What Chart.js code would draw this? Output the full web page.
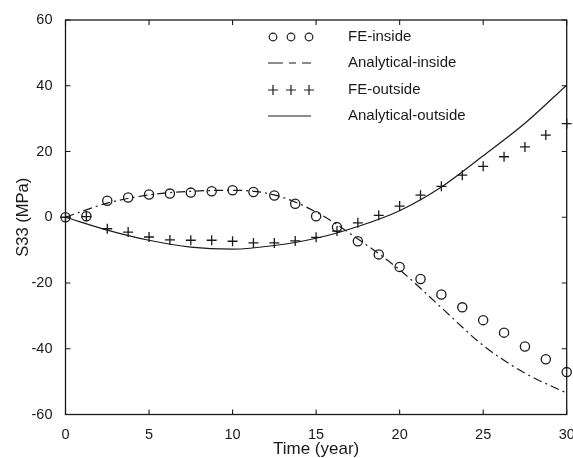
<!DOCTYPE html>
<html>
<head>
<meta charset="utf-8">
<script src="https://cdn.jsdelivr.net/npm/chart.js@4.4.1/dist/chart.umd.min.js"></script>
<style>
  html, body { margin: 0; padding: 0; background: #fff; }
  #wrap { width: 573px; height: 458px; }
</style>
</head>
<body>
<div id="wrap"><canvas id="s33chart"></canvas></div>
<script>
// Data block
const feTime = [0, 1.25, 2.5, 3.75, 5, 6.25, 7.5, 8.75, 10, 11.25, 12.5, 13.75, 15,
                16.25, 17.5, 18.75, 20, 21.25, 22.5, 23.75, 25, 26.25, 27.5, 28.75, 30];
const feInside = [0, 0.3, 5.0, 6.0, 6.9, 7.2, 7.5, 7.9, 8.2, 7.7, 6.6, 4.1, 0.3,
                  -3.0, -7.3, -11.3, -15.1, -18.8, -23.5, -27.4, -31.3, -35.1, -39.3, -43.2, -47.1];
const feOutside = [0, 0.2, -3.5, -4.5, -6.0, -6.9, -7.0, -7.0, -7.3, -7.8, -7.8, -7.2, -6.1,
                   -4.2, -1.7, 0.6, 3.4, 6.7, 9.4, 12.8, 15.5, 18.4, 21.4, 25.0, 28.5];
const anTime = [0, 2.5, 5, 7.5, 10, 12.5, 15, 17.5, 20, 22.5, 25, 27.5, 30];
const anInside = [0, 4.3, 6.8, 7.9, 8.2, 6.8, 1.6, -6.6, -16.0, -27.5, -39.0, -47.4, -53.5];
const anOutside = [0, -3.9, -7.0, -9.1, -9.7, -8.6, -6.4, -2.8, 2.0, 9.2, 18.7, 28.6, 40.2];
const xTicks = [0, 5, 10, 15, 20, 25, 30];
const yTicks = [-60, -40, -20, 0, 20, 40, 60];

const ink = '#1a1a1a';
const dashDot = [9, 4, 2, 4];
const fontFamily = '"Liberation Sans", Arial, sans-serif';

function pairs(xs, ys) {
    return xs.map((x, i) => ({x: x, y: ys[i]}));
}

// Frame with inward ticks on all four sides
const frameBox = {
    id: 'frameBox',
    afterDatasetsDraw(chart) {
        const {ctx, chartArea: a, scales} = chart;
        ctx.save();
        ctx.strokeStyle = ink;
        ctx.lineWidth = 1.3;
        ctx.strokeRect(a.left, a.top, a.right - a.left, a.bottom - a.top);
        ctx.lineWidth = 1.1;
        ctx.beginPath();
        xTicks.forEach(v => {
            const px = scales.x.getPixelForValue(v);
            ctx.moveTo(px, a.bottom); ctx.lineTo(px, a.bottom - 5);
            ctx.moveTo(px, a.top); ctx.lineTo(px, a.top + 5);
        });
        yTicks.forEach(v => {
            const py = scales.y.getPixelForValue(v);
            ctx.moveTo(a.left, py); ctx.lineTo(a.left + 5, py);
            ctx.moveTo(a.right, py); ctx.lineTo(a.right - 5, py);
        });
        ctx.stroke();
        ctx.restore();
    }
};

// Legend drawn inside the plot, no box
const insideLegend = {
    id: 'insideLegend',
    afterDraw(chart) {
        const ctx = chart.ctx;
        const rows = [37, 63, 90, 116];
        const x0 = 268, x1 = 311, tx = 348;
        ctx.save();
        ctx.strokeStyle = ink;
        ctx.fillStyle = ink;
        ctx.lineWidth = 1.2;
        ctx.font = '15px ' + fontFamily;
        ctx.textBaseline = 'middle';
        chart.data.datasets.forEach((ds, i) => {
            const y = rows[i];
            ctx.beginPath();
            if (ds.pointStyle === 'circle' && !ds.showLine) {
                [273, 291, 309].forEach(cx => {
                    ctx.moveTo(cx + 3.8, y);
                    ctx.arc(cx, y, 3.8, 0, Math.PI * 2);
                });
            } else if (ds.pointStyle === 'cross' && !ds.showLine) {
                [273, 291, 309].forEach(cx => {
                    ctx.moveTo(cx - 5, y); ctx.lineTo(cx + 5, y);
                    ctx.moveTo(cx, y - 5); ctx.lineTo(cx, y + 5);
                });
            } else {
                // legend sample of the dash-dot reads as "— - -" in the original
                ctx.setLineDash(ds.borderDash ? [15, 6, 7, 6] : []);
                ctx.moveTo(x0, y); ctx.lineTo(x1, y);
            }
            ctx.stroke();
            ctx.setLineDash([]);
            ctx.fillText(ds.label, tx, y);
        });
        ctx.restore();
    }
};

const s33Data = {
    datasets: [
        {
        label: 'FE-inside',
        data: pairs(feTime, feInside),
        showLine: false,
        pointStyle: 'circle',
        pointRadius: 4.6,
        pointBorderWidth: 1.3,
        pointBorderColor: ink,
        pointBackgroundColor: 'rgba(0,0,0,0)',
        clip: false,
        },
        {
        label: 'Analytical-inside',
        data: pairs(anTime, anInside),
        showLine: true,
        borderColor: ink,
        borderWidth: 1.2,
        borderDash: dashDot,
        pointRadius: 0,
        cubicInterpolationMode: 'monotone',
        },
        {
        label: 'FE-outside',
        data: pairs(feTime, feOutside),
        showLine: false,
        pointStyle: 'cross',
        pointRadius: 5,
        pointBorderWidth: 1.3,
        pointBorderColor: ink,
        clip: false,
        },
        {
        label: 'Analytical-outside',
        data: pairs(anTime, anOutside),
        showLine: true,
        borderColor: ink,
        borderWidth: 1.2,
        pointRadius: 0,
        cubicInterpolationMode: 'monotone',
        }
    ]  // End datasets
};  // End data

const s33Config = {
    type: 'scatter',
    data: s33Data,
    options: {
        responsive: true,
        maintainAspectRatio: false,
        animation: false,
        layout: {
            padding: {left: 0, right: 5.5, top: 20, bottom: 0}
        },
        plugins: {
            legend: {display: false},
            tooltip: {enabled: false},
        },  // End Plugins
        scales: {
            x: {
                type: 'linear',
                min: 0,
                max: 30,
                grid: {display: false},
                border: {display: false},
                afterBuildTicks: (scale) => { scale.ticks = xTicks.map(v => ({value: v})); },
                afterFit: (scale) => {
                    scale.height = 43.5;
                    scale.paddingLeft = 0;
                    scale.paddingRight = 0;
                },
                ticks: {
                    color: ink,
                    padding: 4,
                    maxRotation: 0,
                    font: {family: fontFamily, size: 14.5}
                },
                title: {
                    display: true,
                    text: 'Time (year)',
                    color: ink,
                    font: {family: fontFamily, size: 17, lineHeight: 1},
                    padding: {top: 0, bottom: 0.5}
                },
            },  // End x axis
            y: {
                type: 'linear',
                min: -60,
                max: 60,
                grid: {display: false},
                border: {display: false},
                afterBuildTicks: (scale) => { scale.ticks = yTicks.map(v => ({value: v})); },
                afterFit: (scale) => { scale.width = 65.5; },
                ticks: {
                    color: ink,
                    padding: 5,
                    font: {family: fontFamily, size: 14.5}
                },
                title: {
                    display: true,
                    text: 'S33 (MPa)',
                    color: ink,
                    font: {family: fontFamily, size: 16.5, lineHeight: 1.2},
                    padding: {top: 14, bottom: 0}
                }
            }  // End y axis
        }  // End scales
    },  // End options
    plugins: [frameBox, insideLegend]
};  // End config

const s33Chart = new Chart(
    document.getElementById('s33chart'),
    s33Config
);  // End Chart
</script>
</body>
</html>
